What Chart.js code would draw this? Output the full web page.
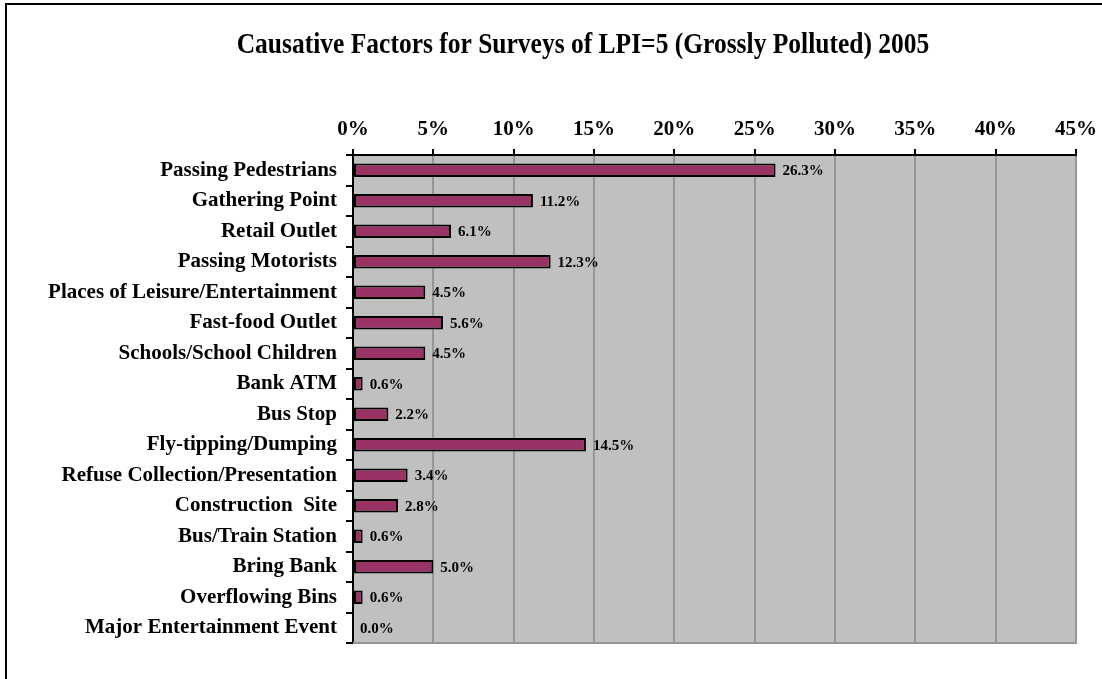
<!DOCTYPE html>
<html>
<head>
<meta charset="utf-8">
<script src="https://cdn.jsdelivr.net/npm/chart.js@4/dist/chart.umd.min.js"></script>
<style>
  html, body { margin: 0; padding: 0; background: #fff; }
  #wrap { width: 1102px; height: 679px; }
</style>
</head>
<body>
<div id="wrap"><canvas id="chart" width="1102" height="679"></canvas></div>
<script>
// Causative factors, LPI=5, 2005
const categories = [
    'Passing Pedestrians',
    'Gathering Point',
    'Retail Outlet',
    'Passing Motorists',
    'Places of Leisure/Entertainment',
    'Fast-food Outlet',
    'Schools/School Children',
    'Bank ATM',
    'Bus Stop',
    'Fly-tipping/Dumping',
    'Refuse Collection/Presentation',
    'Construction  Site',
    'Bus/Train Station',
    'Bring Bank',
    'Overflowing Bins',
    'Major Entertainment Event'
];
const percentages = [26.3, 11.2, 6.1, 12.3, 4.5, 5.6, 4.5, 0.6, 2.2, 14.5, 3.4, 2.8, 0.6, 5.0, 0.6, 0.0];
const tickValues = [0, 5, 10, 15, 20, 25, 30, 35, 40, 45];
const chartTitle = 'Causative Factors for Surveys of LPI=5 (Grossly Polluted) 2005';

const serif = "'Liberation Serif', 'Times New Roman', serif";

// frame, plot background, bottom edge, title, value labels
const decorPlugin = {
    id: 'decor',
    beforeDraw(chart) {
        const { ctx, chartArea: a } = chart;
        ctx.save();
        ctx.fillStyle = '#ffffff';
        ctx.fillRect(0, 0, chart.width, chart.height);
        ctx.strokeStyle = '#000';
        ctx.lineWidth = 2;
        ctx.strokeRect(6, 4, 3000, 3000);
        ctx.fillStyle = '#c0c0c0';
        ctx.fillRect(a.left, a.top, a.right - a.left, a.bottom - a.top);
        // title, a bit taller than wide like the original
        ctx.translate(583, 46);
        ctx.scale(1, 1.12);
        ctx.font = 'bold 25.5px ' + serif;
        ctx.fillStyle = '#000';
        ctx.textAlign = 'center';
        ctx.textBaseline = 'middle';
        ctx.fillText(chartTitle, 0, 0);
        ctx.restore();
    },
    afterDatasetsDraw(chart) {
        const { ctx, chartArea: a } = chart;
        ctx.save();
        ctx.strokeStyle = '#969696';
        ctx.lineWidth = 2;
        ctx.beginPath();
        ctx.moveTo(a.left, a.bottom);
        ctx.lineTo(a.right + 1, a.bottom);
        ctx.stroke();
        const meta = chart.getDatasetMeta(0);
        ctx.font = 'bold 15px ' + serif;
        ctx.fillStyle = '#000';
        ctx.textAlign = 'left';
        ctx.textBaseline = 'middle';
        meta.data.forEach((bar, i) => {
            ctx.fillText(percentages[i].toFixed(1) + '%', bar.x + 7, bar.y + 1);
        });
        ctx.restore();
    }
};

new Chart(document.getElementById('chart'), {
    type: 'bar',
    data: {
        labels: categories,
        datasets: [{
            data: percentages,
            backgroundColor: '#993366',
            borderColor: '#000000',
            borderWidth: 2,
            borderSkipped: false,
            barPercentage: 0.55,
            categoryPercentage: 0.8
        }]
    },
    options: {
        indexAxis: 'y',
        responsive: false,
        animation: false,
        layout: { padding: { left: 0, top: 0, right: 26, bottom: 36 } },
        plugins: {
            legend: { display: false },
            tooltip: { enabled: false }
        },
        scales: {
            x: {
                position: 'top',
                min: 0,
                max: 45,
                afterFit(scale) {
                    scale.height = 155;
                    scale.paddingLeft = 0;
                    scale.paddingRight = 0;
                },
                afterBuildTicks(scale) { scale.ticks = tickValues.map(v => ({ value: v })); },
                grid: {
                    color: '#969696',
                    lineWidth: 2,
                    tickColor: '#000',
                    tickLength: 6,
                    drawTicks: true
                },
                border: { color: '#000', width: 2 },
                ticks: {
                    color: '#000',
                    padding: 7,
                    maxRotation: 0,
                    font: { family: serif, size: 21, weight: 'bold' },
                    callback: v => v + '%'
                }
            },
            y: {
                afterFit(scale) { scale.width = 353; },
                grid: {
                    offset: true,
                    drawOnChartArea: false,
                    tickColor: '#000',
                    tickLength: 7,
                    lineWidth: 2
                },
                border: { color: '#000', width: 2 },
                ticks: {
                    color: '#000',
                    padding: 9,
                    autoSkip: false,
                    font: { family: serif, size: 21, weight: 'bold' }
                }
            }
        }
    },
    plugins: [decorPlugin]
});
</script>
</body>
</html>
